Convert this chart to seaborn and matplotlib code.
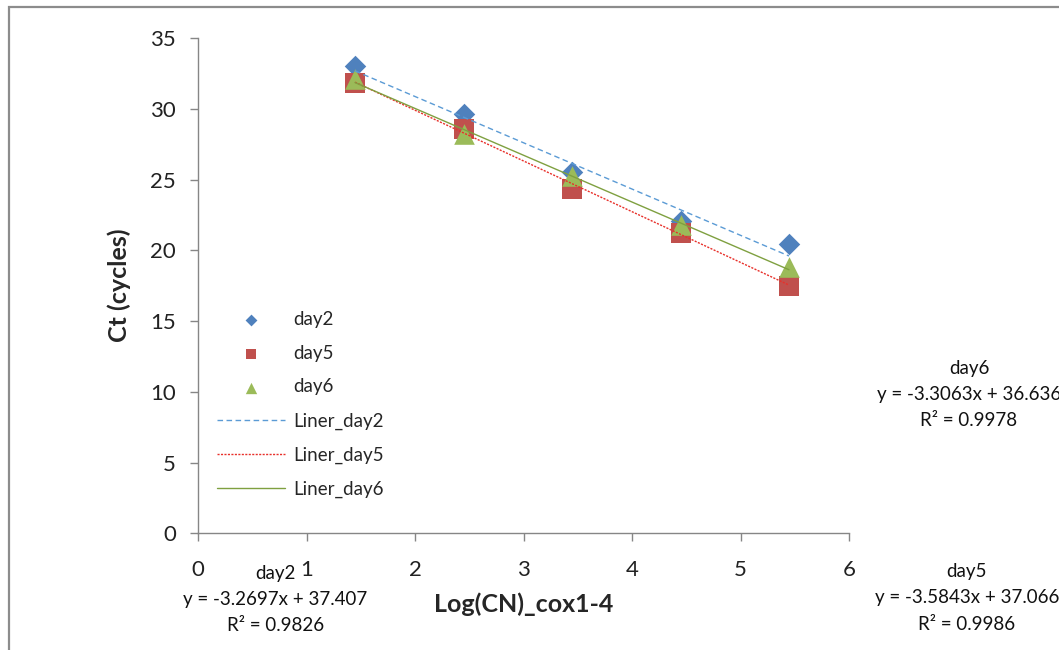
import numpy as np
import pandas as pd
import seaborn as sns
import matplotlib.pyplot as plt
from matplotlib.patches import Rectangle

# Data
log_cn = [1.447, 2.447, 3.447, 4.447, 5.447]
ct_day2 = [33.0, 29.6, 25.5, 22.05, 20.45]
ct_day5 = [31.8, 28.55, 24.35, 21.2, 17.45]
ct_day6 = [32.1, 28.2, 25.25, 21.8, 18.8]
days = ["day2", "day5", "day6"]
slopes = [-3.2697, -3.5843, -3.3063]
intercepts = [37.407, 37.066, 36.636]
r_squared = [0.9826, 0.9986, 0.9978]

sns.set_theme(style="white")
plt.rcParams['font.family'] = ['Lato', 'DejaVu Sans']

fig = plt.figure(figsize=(10.59, 6.5), dpi=100)
ax = fig.add_axes([0.187, 0.1795, 0.6147, 0.762])

# Outer chart frame (only left and top edges are visible in the picture)
fig.patches.append(Rectangle((0.0085, -0.1), 1.2, 1.089, transform=fig.transFigure,
                             fill=False, edgecolor='#8c8c8c', linewidth=1.6))

ct_values = [ct_day2, ct_day5, ct_day6]
marker_colors = ['#4F81BD', '#C0504D', '#9BBB59']
markers = ['D', 's', '^']
marker_sizes = [120, 200, 220]

# Scatter points
for day, ct, col, mk, sz in zip(days, ct_values, marker_colors, markers, marker_sizes):
    sns.scatterplot(x=log_cn, y=ct, marker=mk, color=col, s=sz, linewidth=0,
                    label=day, ax=ax, zorder=2)

# Linear trend lines from the fitted equations
line_colors = ['#5B9BD5', '#E8302A', '#7FA040']
line_styles = [(0, (4, 2.5)), (0, (1.5, 1)), '-']
x_line = np.array([log_cn[0], log_cn[-1]])
for day, m, b, col, ls in zip(days, slopes, intercepts, line_colors, line_styles):
    sns.lineplot(x=x_line, y=m * x_line + b, color=col, linestyle=ls, linewidth=1.0,
                 label='Liner_' + day, ax=ax, zorder=3)

ax.set_xlim(0, 6)
ax.set_ylim(0, 35)
ax.set_xticks(range(0, 7))
ax.set_yticks(range(0, 36, 5))
ax.tick_params(axis='x', pad=13)
ax.tick_params(axis='y', pad=10)
ax.tick_params(bottom=True, left=True, direction='out', length=6, width=1,
               color='#868686', labelsize=16, labelcolor='#222222')
for side in ['top', 'right']:
    ax.spines[side].set_visible(False)
for side in ['left', 'bottom']:
    ax.spines[side].set_color('#868686')
    ax.spines[side].set_linewidth(1)

ax.set_xlabel('Log(CN)_cox1-4', fontsize=18, fontweight='bold', labelpad=9)
ax.set_ylabel('Ct (cycles)', fontsize=18, fontweight='bold', labelpad=14)

ax.legend(loc='upper left', bbox_to_anchor=(0.205, 0.522), bbox_transform=fig.transFigure,
          frameon=False, fontsize=13.5, markerscale=0.55, handlelength=3.6,
          labelspacing=0.9, borderpad=0, borderaxespad=0, handletextpad=0.45)

# Trendline equation labels, one text per line
label_pos = [(0.26, 0.118), (0.913, 0.12), (0.915, 0.433)]
line_step = 0.04
for day, m, b, r2, (px, py) in zip(days, slopes, intercepts, r_squared, label_pos):
    lines = [day, f'y = {m:.4f}x + {b:.3f}', f'R² = {r2:.4f}']
    for i, txt in enumerate(lines):
        fig.text(px, py - i * line_step, txt, ha='center', va='center',
                 fontsize=13.5, color='#111111')

fig.savefig('out.png', dpi=100)
plt.close(fig)
